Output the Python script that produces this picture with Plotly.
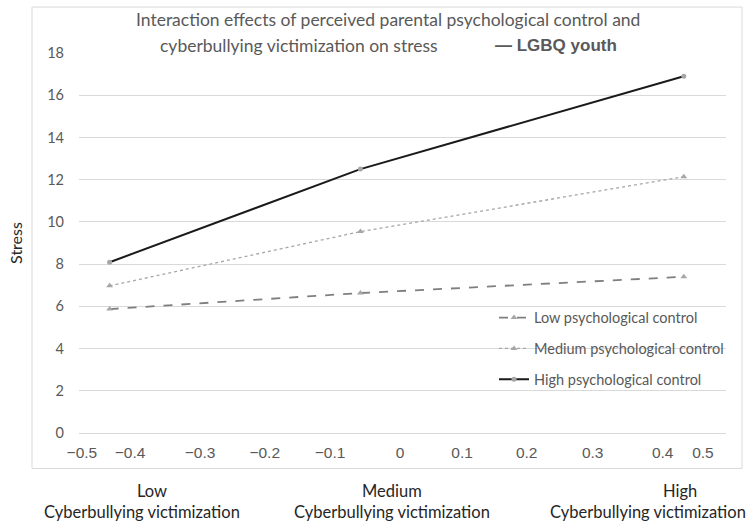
import plotly.graph_objects as go

# x positions of the three victimization levels (mean-centred)
victim_x = [-0.44, -0.06, 0.43]

# simple slopes, stress
low_control = [5.87, 6.63, 7.40]
medium_control = [6.97, 9.54, 12.14]
high_control = [8.09, 12.50, 16.90]

series_names = [
    "Low psychological control",
    "Medium psychological control",
    "High psychological control",
]

# the x tick labels sit a little unevenly in the original
x_tick_vals = [-0.482, -0.409, -0.303, -0.205, -0.106, 0.0, 0.094, 0.192, 0.292, 0.398, 0.459]
x_tick_text = ["\u22120.5", "\u22120.4", "\u22120.3", "\u22120.2", "\u22120.1", "0", "0.1", "0.2", "0.3", "0.4", "0.5"]

level_labels = ["Low", "Medium", "High"]
level_x_top = [152, 392, 680]
level_x_bottom = [142, 392, 648]

FONT = "Lato"
GRAY = "#595959"

fig = go.Figure()

fig.add_trace(go.Scatter(
    x=victim_x, y=low_control, name=series_names[0], mode="lines+markers",
    legendgroup="low",
    line=dict(color="#7f7f7f", width=1.8, dash="dash"),
    marker=dict(symbol="triangle-up", size=6, color="#a6a6a6"),
))
fig.add_trace(go.Scatter(
    x=victim_x, y=medium_control, name=series_names[1], mode="lines+markers",
    legendgroup="medium",
    line=dict(color="#a6a6a6", width=1.3, dash="dot"),
    marker=dict(symbol="triangle-up", size=6, color="#a6a6a6"),
))
fig.add_trace(go.Scatter(
    x=victim_x, y=high_control, name=series_names[2], mode="lines+markers",
    legendgroup="high",
    line=dict(color="#1a1a1a", width=2),
    marker=dict(symbol="circle", size=5, color="#a6a6a6"),
))

W, H = 752, 524
left, right, top, bottom = 79, 726, 53, 433.5


def px_x(p):
    return (p - left) / (right - left)


def px_y(p):
    return (bottom - p) / (bottom - top)


annotations = [
    dict(text="Interaction effects of perceived parental psychological control and",
         x=px_x(388), y=px_y(19), xanchor="center", yanchor="middle",
         font=dict(family=FONT, size=17.5, color=GRAY)),
    dict(text="cyberbullying victimization on stress",
         x=px_x(158), y=px_y(45), xanchor="left", yanchor="middle",
         font=dict(family=FONT, size=17.5, color=GRAY)),
    dict(text="<b>\u2014 LGBQ youth</b>",
         x=px_x(493), y=px_y(45), xanchor="left", yanchor="middle",
         font=dict(family="Liberation Sans", size=17, color="#595959")),
]
for lab, x1, x2 in zip(level_labels, level_x_top, level_x_bottom):
    annotations.append(dict(
        text=lab, x=px_x(x1), y=px_y(492), xanchor="center", yanchor="middle",
        font=dict(family=FONT, size=16.5, color="#262626"),
    ))
    annotations.append(dict(
        text="Cyberbullying victimization", x=px_x(x2), y=px_y(513),
        xanchor="center", yanchor="middle",
        font=dict(family=FONT, size=16.5, color="#262626"),
    ))
for a in annotations:
    a.update(xref="paper", yref="paper", showarrow=False)

fig.update_layout(
    width=W, height=H,
    margin=dict(l=left, r=W - right, t=top, b=H - bottom),
    paper_bgcolor="white", plot_bgcolor="white",
    font=dict(family=FONT, size=14, color=GRAY),
    showlegend=True,
    legend=dict(
        x=px_x(494), y=px_y(302), xanchor="left", yanchor="top",
        bgcolor="rgba(0,0,0,0)", font=dict(family=FONT, size=14.5, color=GRAY),
        tracegroupgap=9, itemwidth=30,
    ),
    annotations=annotations,
    shapes=[dict(
        type="rect", xref="paper", yref="paper",
        x0=px_x(32), x1=px_x(742), y0=px_y(469), y1=px_y(7),
        line=dict(color="#d9d9d9", width=1), layer="below",
    )],
)

fig.update_xaxes(
    range=[(left - 400) / 660, (right - 400) / 660],
    tickvals=x_tick_vals, ticktext=x_tick_text,
    showgrid=False, zeroline=False, showline=False,
    ticks="", ticklabelstandoff=8,
    tickfont=dict(family="Liberation Sans", size=15.5, color=GRAY),
)
fig.update_yaxes(
    range=[0, 18], dtick=2,
    showgrid=True, gridcolor="#d9d9d9", gridwidth=1,
    zeroline=True, zerolinecolor="#d9d9d9", zerolinewidth=1,
    showline=False, ticks="", ticklabelstandoff=14,
    tickfont=dict(family=FONT, size=14.5, color=GRAY),
    title=dict(text="Stress", font=dict(family=FONT, size=16, color="#262626"), standoff=20),
)

# drop the default 8px body margin so the figure sits at the page corner
fig.write_html(
    "out.html",
    config={"displayModeBar": False},
    post_script="document.body.style.margin = '0';",
)
